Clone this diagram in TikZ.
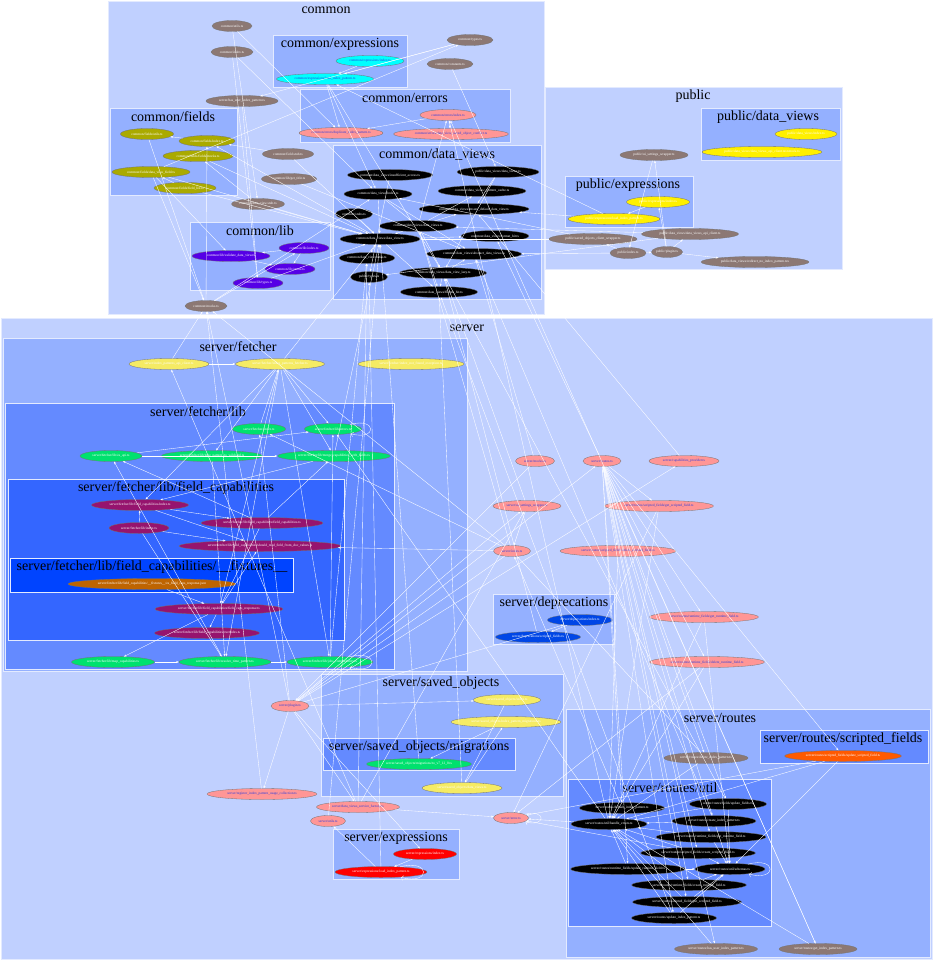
\documentclass[tikz,border=0pt]{standalone}
\usepackage{fontspec}
\setmainfont{Liberation Serif}
\usetikzlibrary{shapes.geometric,arrows.meta}
\definecolor{cA}{RGB}{192,208,255}
\definecolor{cB}{RGB}{148,176,255}
\definecolor{cC}{RGB}{100,138,255}
\definecolor{cD}{RGB}{52,102,255}
\definecolor{cE}{RGB}{0,68,255}
\definecolor{nbrown}{RGB}{140,120,116}
\definecolor{nolive}{RGB}{170,170,0}
\definecolor{ncyan}{RGB}{0,255,255}
\definecolor{npink}{RGB}{255,150,150}
\definecolor{npurple}{RGB}{85,0,230}
\definecolor{nyel}{RGB}{255,240,0}
\definecolor{nlyel}{RGB}{245,235,100}
\definecolor{ngreen}{RGB}{0,225,110}
\definecolor{nmag}{RGB}{150,20,110}
\definecolor{norange}{RGB}{190,100,0}
\definecolor{ndblue}{RGB}{0,70,230}
\definecolor{nred}{RGB}{255,0,0}
\definecolor{nored}{RGB}{255,90,0}
\definecolor{tblue}{RGB}{40,60,220}
\tikzset{
  nd/.style={ellipse, draw=black!55, line width=0.3pt, minimum height=11pt, inner sep=0pt,
    font=\fontsize{3.5}{4}\selectfont, text=white},
  nBrown/.style={nd, fill=nbrown},
  nOlive/.style={nd, fill=nolive},
  nCyan/.style={nd, fill=ncyan, text=tblue},
  nPink/.style={nd, fill=npink, text=tblue},
  nPurple/.style={nd, fill=npurple},
  nBlack/.style={nd, fill=black},
  nYel/.style={nd, fill=nyel},
  nLyel/.style={nd, fill=nlyel},
  nGreen/.style={nd, fill=ngreen},
  nMag/.style={nd, fill=nmag},
  nOrange/.style={nd, fill=norange},
  nDblue/.style={nd, fill=ndblue},
  nRed/.style={nd, fill=nred},
  nOred/.style={nd, fill=nored},
  clab/.style={font=\fontsize{14}{16}\selectfont, text=black, inner sep=0pt},
  clus/.style={draw=white!55!cA, line width=0.7pt},
  dep/.style={draw=white, line width=0.35pt, -{Stealth[length=2.6pt,width=2pt]}},
  selfdep/.style={dep, min distance=5pt, looseness=6},
}
\begin{document}
\begin{tikzpicture}[x=1pt,y=-1pt]
\useasboundingbox (0,0) rectangle (933,960);
\fill[white] (0,0) rectangle (933,960);
% ---------- clusters ----------
\filldraw[clus, fill=cA] (108,1) rectangle (544,314);
\filldraw[clus, fill=cB] (273,35) rectangle (407,87);
\filldraw[clus, fill=cB] (300,89) rectangle (510,142);
\filldraw[clus, fill=cB] (110,108) rectangle (237,195);
\filldraw[clus, fill=cB] (333,145) rectangle (541,299);
\filldraw[clus, fill=cB] (190,222) rectangle (330,290);
\filldraw[clus, fill=cA] (545,87) rectangle (842,269);
\filldraw[clus, fill=cB] (701,108) rectangle (840,160);
\filldraw[clus, fill=cB] (565,176) rectangle (693,227);
\filldraw[clus, fill=cA] (1,318) rectangle (932,959);
\filldraw[clus, fill=cB] (3,338) rectangle (467,671);
\filldraw[clus, fill=cC] (5,403) rectangle (394,669);
\filldraw[clus, fill=cD] (8,479) rectangle (344,640);
\filldraw[clus, fill=cE] (10,558) rectangle (293,592);
\filldraw[clus, fill=cB] (493,594) rectangle (614,644);
\filldraw[clus, fill=cB] (321,674) rectangle (563,796);
\filldraw[clus, fill=cC] (323,738) rectangle (515,770);
\filldraw[clus, fill=cB] (333,829) rectangle (459,879);
\filldraw[clus, fill=cB] (566,709) rectangle (930,957);
\filldraw[clus, fill=cC] (760,730) rectangle (928,763);
\filldraw[clus, fill=cC] (568,779) rectangle (771,926);
% ---------- cluster labels ----------
\node[clab] (Lcommon) at (326,10) {common};
\node[clab] (Lcexpr) at (340,44) {common/expressions};
\node[clab] (Lcerr) at (405,98) {common/errors};
\node[clab] (Lcfields) at (173,117) {common/fields};
\node[clab] (Lcdv) at (437,155) {common/data\_views};
\node[clab] (Lclib) at (260,231) {common/lib};
\node[clab] (Lpublic) at (693,96) {public};
\node[clab] (Lpdv) at (768,117) {public/data\_views};
\node[clab] (Lpexpr) at (628,185) {public/expressions};
\node[clab] (Lserver) at (467,328) {server};
\node[clab] (Lsf) at (238,347) {server/fetcher};
\node[clab] (Lsfl) at (198,412) {server/fetcher/lib};
\node[clab] (Lsfc) at (176,488) {server/fetcher/lib/field\_capabilities};
\node[clab] (Lsfx) at (152,567) {server/fetcher/lib/field\_capabilities/\_\_fixtures\_\_};
\node[clab] (Lsdep) at (554,603) {server/deprecations};
\node[clab] (Lsso) at (441,683) {server/saved\_objects};
\node[clab] (Lssom) at (419,747) {server/saved\_objects/migrations};
\node[clab] (Lsexpr) at (396,838) {server/expressions};
\node[clab] (Lsr) at (720,718) {server/routes};
\node[clab] (Lsrsf) at (843,739) {server/routes/scripted\_fields};
\node[clab] (Lsru) at (670,788) {server/routes/util};
% ---------- common nodes ----------
\node[nBrown, minimum width=40pt] (cUtil) at (232,26) {common/utils.ts};
\node[nBrown, minimum width=42pt] (cIndex) at (232,52) {common/index.ts};
\node[nBrown, minimum width=72pt] (cHasUser) at (242,101) {server/has\_user\_index\_pattern.ts};
\node[nBrown, minimum width=46pt] (cTypes) at (470,40) {common/types.ts};
\node[nBrown, minimum width=46pt] (cConst) at (450,64) {common/constants.ts};
\node[nBrown, minimum width=51pt] (cFieldStub) at (288,154) {common/field.stub.ts};
\node[nBrown, minimum width=55pt] (cGetTitle) at (289,179) {common/lib/get\_title.ts};
\node[nBrown, minimum width=50pt] (cDVStub) at (258,204) {common/data\_view.stub.ts};
\node[nBrown, minimum width=42pt] (cMocks) at (206,306) {common/mocks.ts};
\node[nOlive, minimum width=53pt] (fUtils) at (147,134) {common/fields/utils.ts};
\node[nOlive, minimum width=56pt] (fIndex) at (207,141) {common/fields/index.ts};
\node[nOlive, minimum width=70pt] (fMocks) at (198,156) {common/fields/fields.mocks.ts};
\node[nOlive, minimum width=78pt] (fDVField) at (151,172) {common/fields/data\_view\_field.ts};
\node[nOlive, minimum width=62pt] (fList) at (185,188) {common/fields/field\_list.ts};
\node[nCyan, minimum width=68pt] (eIndex) at (370,61) {common/expressions/index.ts};
\node[nCyan, minimum width=97pt] (eLoad) at (325,79) {common/expressions/load\_index\_pattern.ts};
\node[nPink, minimum width=56pt] (erIndex) at (448,115) {common/errors/index.ts};
\node[nPink, minimum width=77pt] (erDup) at (341,133) {common/errors/duplicate\_index\_pattern.ts};
\node[nPink, minimum width=115pt] (erConf) at (451,134) {common/errors/data\_view\_saved\_object\_conflict.ts};
\node[nPurple, minimum width=50pt] (lIndex) at (304,248) {common/lib/index.ts};
\node[nPurple, minimum width=78pt] (lValidate) at (231,256) {common/lib/validate\_data\_view.ts};
\node[nPurple, minimum width=50pt] (lErrors) at (290,269) {common/lib/errors.ts};
\node[nPurple, minimum width=50pt] (lTypes) at (258,283) {common/lib/types.ts};
\node[nBlack, minimum width=85pt] (d1) at (390,175) {common/data\_views/insufficient\_access.ts};
\node[nBlack, minimum width=82pt] (d2) at (498,172) {public/data\_views/data\_views.ts};
\node[nBlack, minimum width=68pt] (d3) at (378,194) {common/data\_views/index.ts};
\node[nBlack, minimum width=88pt] (d4) at (482,191) {common/data\_views/\_pattern\_cache.ts};
\node[nBlack, minimum width=110pt] (d5) at (474,209) {common/data\_views/ensure\_default\_data\_view.ts};
\node[nBlack, minimum width=37pt] (d6) at (354,214) {common/stubs.ts};
\node[nBlack, minimum width=77pt] (d7) at (418,226) {common/data\_views/data\_views.ts};
\node[nBlack, minimum width=62pt] (d8) at (495,236) {common/data\_views/format\_hit.ts};
\node[nBlack, minimum width=80pt] (d9) at (380,239) {common/data\_views/data\_view.ts};
\node[nBlack, minimum width=55pt] (d10) at (367,258) {common/data\_views/utils.ts};
\node[nBlack, minimum width=95pt] (d11) at (474,254) {common/data\_views/abstract\_data\_views.ts};
\node[nBlack, minimum width=37pt] (d12) at (369,277) {public/types.ts};
\node[nBlack, minimum width=87pt] (d13) at (443,273) {common/data\_views/data\_view\_lazy.ts};
\node[nBlack, minimum width=77pt] (d14) at (439,292) {common/data\_views/flatten\_hit.ts};
% ---------- public nodes ----------
\node[nYel, minimum width=62pt] (pDVIndex) at (806,134) {public/data\_views/index.ts};
\node[nYel, minimum width=120pt] (pDVMock) at (762,152) {public/data\_views/data\_views\_api\_client.test.mock.ts};
\node[nYel, minimum width=63pt] (pEIndex) at (658,202) {public/expressions/index.ts};
\node[nYel, minimum width=92pt] (pELoad) at (614,219) {public/expressions/load\_index\_pattern.ts};
\node[nBrown, minimum width=68pt] (pUI) at (654,155) {public/ui\_settings\_wrapper.ts};
\node[nBrown, minimum width=88pt] (pSO) at (593,239) {public/saved\_objects\_client\_wrapper.ts};
\node[nBrown, minimum width=97pt] (pAPI) at (690,234) {public/data\_views/data\_views\_api\_client.ts};
\node[nBrown, minimum width=36pt] (pIndex) at (628,253) {public/index.ts};
\node[nBrown, minimum width=31pt] (pPlugin) at (667,252) {public/plugin.ts};
\node[nBrown, minimum width=108pt] (pRedirect) at (755,262) {public/data\_views/redirect\_no\_index\_pattern.tsx};
% ---------- server/fetcher ----------
\node[nLyel, minimum width=80pt] (sfApi) at (169,364) {server/index\_patterns\_api\_client.ts};
\node[nLyel, minimum width=89pt] (sfFetcher) at (280,364) {server/fetcher/index\_patterns\_fetcher.ts};
\node[nLyel, minimum width=106pt] (sfNotFound) at (411,364) {server/fetcher/index\_not\_found\_exception.ts};
\node[nGreen, minimum width=53pt] (glIndex) at (259,429) {server/fetcher/index.ts};
\node[nGreen, minimum width=57pt] (glErrors) at (333,429) {server/fetcher/lib/errors.ts};
\node[nGreen, minimum width=62pt] (glEs) at (111,456) {server/fetcher/lib/es\_api.ts};
\node[nGreen, minimum width=101pt] (glWild) at (212,456) {server/fetcher/lib/time\_pattern\_to\_wildcard.ts};
\node[nGreen, minimum width=113pt] (glMerge) at (334,456) {server/fetcher/lib/merge\_capabilities\_with\_fields.ts};
\node[nGreen, minimum width=83pt] (glMap) at (113,662) {server/fetcher/lib/map\_capabilities.ts};
\node[nGreen, minimum width=92pt] (glResolve) at (225,662) {server/fetcher/lib/resolve\_time\_pattern.ts};
\node[nGreen, minimum width=86pt] (glJobs) at (330,662) {server/fetcher/lib/jobs\_compatibility.ts};
\node[nMag, minimum width=97pt] (fcIndex) at (140,505) {server/fetcher/lib/field\_capabilities/index.ts};
\node[nMag, minimum width=122pt] (fcFC) at (262,523) {server/fetcher/lib/field\_capabilities/field\_capabilities.ts};
\node[nMag, minimum width=60pt] (fcLibIndex) at (139,528) {server/fetcher/lib/index.ts};
\node[nMag, minimum width=162pt] (fcShould) at (260,546) {server/fetcher/lib/field\_capabilities/should\_read\_field\_from\_doc\_values.ts};
\node[nOrange, minimum width=168pt] (fcFix) at (152,584) {server/fetcher/lib/field\_capabilities/\_\_fixtures\_\_/es\_field\_caps\_response.json};
\node[nMag, minimum width=128pt] (fcResp) at (219,609) {server/fetcher/lib/field\_capabilities/field\_caps\_response.ts};
\node[nMag, minimum width=105pt] (fcOver) at (207,633) {server/fetcher/lib/field\_capabilities/overrides.ts};
% ---------- server misc ----------
\node[nPink, minimum width=39pt] (sMocks) at (535,461) {server/mocks.ts};
\node[nPink, minimum width=38pt] (sRoutes) at (602,461) {server/routes.ts};
\node[nPink, minimum width=70pt] (sCap) at (684,461) {server/capabilities\_provider.ts};
\node[nPink, minimum width=68pt] (sUI) at (527,506) {server/ui\_settings\_wrapper.ts};
\node[nPink, minimum width=109pt] (sGetSF) at (659,506) {server/routes/scripted\_fields/get\_scripted\_field.ts};
\node[nPink, minimum width=37pt] (sIndex) at (512,551) {server/index.ts};
\node[nPink, minimum width=116pt] (sDelSF) at (618,551) {server/routes/scripted\_fields/delete\_scripted\_field.ts};
\node[nPink, minimum width=109pt] (sGetRF) at (704,617) {server/routes/runtime\_fields/get\_runtime\_field.ts};
\node[nPink, minimum width=115pt] (sDelRF) at (707,662) {server/routes/runtime\_fields/delete\_runtime\_field.ts};
\node[nDblue, minimum width=65pt] (depIndex) at (580,620) {server/deprecations/index.ts};
\node[nDblue, minimum width=85pt] (depSF) at (538,637) {server/deprecations/scripted\_fields.ts};
\node[nPink, minimum width=38pt] (sPlugin) at (290,706) {server/plugin.ts};
\node[nLyel, minimum width=67pt] (soIndex) at (507,700) {server/saved\_objects/index.ts};
\node[nLyel, minimum width=110pt] (soMig) at (506,722) {server/saved\_objects/index\_pattern\_migrations.ts};
\node[nGreen, minimum width=105pt] (soTo) at (419,764) {server/saved\_objects/migrations/to\_v7\_12\_0.ts};
\node[nLyel, minimum width=80pt] (soDV) at (462,788) {server/saved\_objects/data\_views.ts};
\node[nPink, minimum width=110pt] (sReg) at (262,794) {server/register\_index\_pattern\_usage\_collection.ts};
\node[nPink, minimum width=83pt] (sFactory) at (358,807) {server/data\_views\_service\_factory.ts};
\node[nPink, minimum width=35pt] (sUtils) at (328,821) {server/utils.ts};
\node[nPink, minimum width=35pt] (sError) at (511,818) {server/error.ts};
\node[nRed, minimum width=63pt] (exIndex) at (425,854) {server/expressions/index.ts};
\node[nRed, minimum width=92pt] (exLoad) at (381,872) {server/expressions/load\_index\_pattern.ts};
% ---------- server/routes ----------
\node[nBrown, minimum width=84pt] (rDelete) at (706,758) {server/routes/delete\_index\_pattern.ts};
\node[nOred, minimum width=117pt] (rUpdSF) at (843,756) {server/routes/scripted\_fields/update\_scripted\_field.ts};
\node[nBlack, minimum width=85pt] (rDefault) at (622,808) {server/routes/default\_index\_pattern.ts};
\node[nBlack, minimum width=77pt] (rFields) at (728,804) {server/routes/fields/update\_fields.ts};
\node[nBlack, minimum width=76pt] (rHandle) at (609,824) {server/routes/util/handle\_errors.ts};
\node[nBlack, minimum width=84pt] (rCreate) at (714,821) {server/routes/create\_index\_pattern.ts};
\node[nBlack, minimum width=110pt] (rPutRF) at (711,837) {server/routes/runtime\_fields/put\_runtime\_field.ts};
\node[nBlack, minimum width=115pt] (rCreateSF) at (698,853) {server/routes/scripted\_fields/create\_scripted\_field.ts};
\node[nBlack, minimum width=115pt] (rUpdRF) at (628,869) {server/routes/runtime\_fields/update\_runtime\_field.ts};
\node[nBlack, minimum width=70pt] (rSchemas) at (730,869) {server/routes/util/schemas.ts};
\node[nBlack, minimum width=115pt] (rCreateRF) at (689,885) {server/routes/runtime\_fields/create\_runtime\_field.ts};
\node[nBlack, minimum width=109pt] (rPutSF) at (687,902) {server/routes/scripted\_fields/put\_scripted\_field.ts};
\node[nBlack, minimum width=85pt] (rUpdate) at (674,918) {server/routes/update\_index\_pattern.ts};
\node[nBrown, minimum width=83pt] (rHasUser) at (716,949) {server/routes/has\_user\_index\_pattern.ts};
\node[nBrown, minimum width=78pt] (rGet) at (818,949) {server/routes/get\_index\_pattern.ts};
% ---------- edges: common ----------
\foreach \a/\b in {cUtil/cDVStub, cUtil/erDup, cIndex/lTypes, cHasUser/lTypes, fDVField/cTypes,
  fMocks/d9, fIndex/fUtils, fList/fDVField, fDVField/d9, fList/d9, fDVField/lValidate,
  fUtils/cMocks, fDVField/cMocks, eLoad/d3, eLoad/erDup, eIndex/eLoad, eLoad/d13,
  erIndex/erDup, erIndex/erConf, cTypes/eLoad, cConst/d2, cFieldStub/fIndex, cFieldStub/d9,
  cGetTitle/d11, cDVStub/d9, cDVStub/fMocks, lIndex/lValidate, lIndex/lErrors, lValidate/lErrors,
  lTypes/d9, cMocks/d3, cMocks/lIndex, cMocks/fIndex, d3/d9, d3/d7, d3/d11, d7/d9, d7/d5,
  d7/erIndex, d7/d4, d7/d14, d7/d13, d9/d14, d9/d8, d9/fIndex, d9/d10, d2/d13, d2/d5,
  d13/d11, d13/d14, d1/d12, d6/d9, cIndex/d3, cTypes/cHasUser}
  \draw[dep] (\a) -- (\b);
% ---------- edges: public ----------
\foreach \a/\b in {pSO/d3, pIndex/d11, pPlugin/pEIndex, pPlugin/pUI, pPlugin/pAPI, pPlugin/pRedirect,
  pIndex/pPlugin, pEIndex/pELoad, pELoad/d5, pELoad/eLoad, pIndex/pSO, pAPI/d7, pUI/pIndex,
  pSO/d9, pAPI/d12}
  \draw[dep] (\a) -- (\b);
% ---------- edges: fetcher ----------
\foreach \a/\b in {sfApi/sfFetcher, sfApi/cMocks, sfFetcher/glMerge, sfFetcher/glResolve, sfFetcher/glJobs,
  sfFetcher/fcIndex, sfFetcher/glErrors, sfFetcher/d9, sfFetcher/fcResp, glIndex/sfFetcher,
  glEs/glErrors, glWild/glResolve, glMerge/fcIndex, glMerge/d9, fcIndex/fcFC, fcIndex/fcShould,
  fcLibIndex/fcShould, fcLibIndex/glResolve, fcLibIndex/fcIndex, fcFC/fcResp, fcFC/glEs,
  fcFC/glMerge, fcResp/fcOver, fcResp/fcShould, fcResp/glMap, glMap/glResolve, glResolve/glJobs,
  glResolve/glEs, glJobs/glErrors, fcFix/fcResp, sfFetcher/glWild, glEs/glMerge,
  glJobs/d10}
  \draw[dep] (\a) -- (\b);
\path (glErrors) edge[selfdep, loop right] (glErrors);
\path (glJobs) edge[selfdep, loop right] (glJobs);
% ---------- edges: server ----------
\foreach \a/\b in {sIndex/fcShould, sIndex/sPlugin, sIndex/glIndex, sIndex/d7, sIndex/cMocks,
  sMocks/sPlugin, sMocks/d11, sUI/d13, sUI/sIndex, sPlugin/sRoutes, sPlugin/sCap, sPlugin/sUI,
  sPlugin/soIndex, sPlugin/sReg, sPlugin/sFactory, sPlugin/exIndex, sPlugin/depIndex,
  sPlugin/cMocks, sPlugin/glIndex, depIndex/depSF, depSF/d13, soIndex/soDV, soDV/soMig, soMig/soTo,
  soDV/d14, sReg/cMocks, sFactory/sUI, sFactory/d10, sFactory/sfApi, sFactory/sError, exIndex/exLoad,
  exLoad/d12, exLoad/sUtils, sCap/d5, sRoutes/d8, sUtils/d9, soTo/d9}
  \draw[dep] (\a) -- (\b);
\path (exLoad) edge[selfdep, loop right] (exLoad);
\path (sError) edge[selfdep, loop right] (sError);
% ---------- edges: routes ----------
\foreach \t in {rDelete, rUpdSF, rDefault, rFields, rCreate, rPutRF, rCreateSF, rUpdRF, rCreateRF,
  rPutSF, rUpdate, rHasUser, rGet, sGetSF, sDelSF, sGetRF, sDelRF}
  \draw[dep] (sRoutes) -- (\t);
\foreach \s in {rDefault, rFields, rCreate, rPutRF, rCreateSF, rUpdRF, rCreateRF, rPutSF, rUpdate,
  rHasUser, rGet, sGetSF, sDelSF, sGetRF, sDelRF, rUpdSF, rDelete}
  \draw[dep] (\s) -- (rHandle);
\foreach \s in {rCreate, rPutRF, rCreateSF, rUpdRF, rCreateRF, rPutSF, rUpdate, rFields, rUpdSF, sGetRF}
  \draw[dep] (\s) -- (rSchemas);
\path (rSchemas) edge[selfdep, loop right] (rSchemas);
\foreach \a/\b in {rHandle/sError, rHandle/glErrors, rHandle/erIndex, rDefault/sIndex, rCreate/d11,
  rUpdate/d14, rFields/d13, rGet/erIndex, rUpdSF/sError, rCreateSF/sError, rDelete/sIndex,
  sGetSF/sError, sDelRF/sError}
  \draw[dep] (\a) -- (\b);
\end{tikzpicture}
\end{document}
